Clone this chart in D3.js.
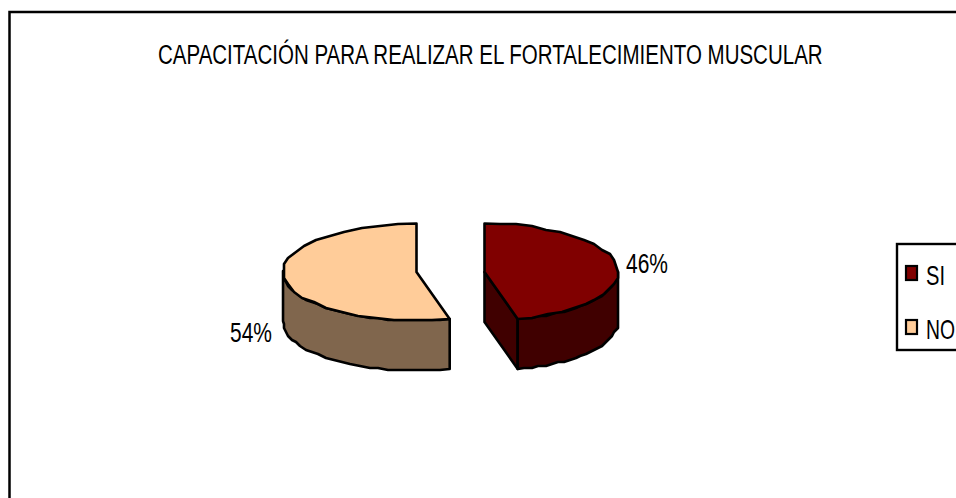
<!DOCTYPE html>
<html><head><meta charset="utf-8">
<script src="https://cdn.jsdelivr.net/npm/d3@7"></script>
<style>html,body{margin:0;padding:0;background:#fff;overflow:hidden}svg{display:block}text{font-family:"Liberation Sans",Arial,sans-serif;fill:#000}</style>
</head><body><svg width="956" height="498"></svg>
<script>
const categories = ["SI", "NO"];
const values = [46, 54];
const topColors = ["#800000", "#FFCC99"];
const sideColors = ["#400000", "#80664D"];
const titleText = "CAPACITACIÓN PARA REALIZAR EL FORTALECIMIENTO MUSCULAR";

const svg = d3.select("svg");
const rx = 133.5, ry = 48.5, depth = 50, cy = 272;
const centers = [484.5, 416.5];
const pieData = d3.pie().sort(null).value(d => d)(values);

svg.append("rect").attr("x", 9.5).attr("y", 12).attr("width", 1000).attr("height", 600)
  .attr("fill", "#fff").attr("stroke", "#000").attr("stroke-width", 2.5);

const pt = (cx, a, dy = 0) => [cx + rx * Math.sin(a), cy - ry * Math.cos(a) + dy];
// coarse polyline outline, snapped to a grid as in the low-resolution original
const snap = p => [Math.round(p[0] / 2) * 2, Math.round(p[1] / 2) * 2];
function arcPts(cx, a0, a1, dy = 0) {
  const n = 24, out = [];
  const s = d3.scaleLinear().domain([0, n]).range([a0, a1]);
  for (let i = 0; i <= n; i++) {
    const p = pt(cx, s(i), dy);
    out.push(i === 0 || i === n ? p : snap(p));
  }
  return out;
}
const line = d3.line();
const stroke = g => g.attr("stroke", "#000").attr("stroke-width", 2.6).attr("stroke-linejoin", "round");

// NO slice: outer wall on the left-front
{
  const d = pieData[1], cx = centers[1];
  const a0 = d.startAngle, split = 1.5 * Math.PI + 0.02;
  const upper = arcPts(cx, a0, split), lower = arcPts(cx, a0, split, depth).reverse();
  svg.append("path").attr("d", line(upper.concat(lower)) + "Z").attr("fill", sideColors[1]).call(stroke);
  const rim = arcPts(cx, d.startAngle, d.endAngle);
  svg.append("path").attr("d", line([[cx, cy]].concat(rim)) + "Z").attr("fill", topColors[1]).call(stroke);
}
// SI slice: cut face, outer wall and top
{
  const d = pieData[0], cx = centers[0];
  const e = pt(cx, d.endAngle);
  svg.append("path").attr("d", line([[cx, cy], e, [e[0], e[1] + depth], [cx, cy + depth]]) + "Z")
    .attr("fill", sideColors[0]).call(stroke);
  const q = Math.PI / 2;
  const upper = arcPts(cx, q, d.endAngle), lower = arcPts(cx, q, d.endAngle, depth).reverse();
  svg.append("path").attr("d", line(upper.concat(lower)) + "Z").attr("fill", sideColors[0]).call(stroke);
  const rim = arcPts(cx, d.startAngle, d.endAngle);
  svg.append("path").attr("d", line([[cx, cy]].concat(rim)) + "Z").attr("fill", topColors[0]).call(stroke);
}

// narrow the glyphs horizontally so each text spans the width seen in the original
const fs = 28;
function squeezed(str, x, y, w) {
  const t = svg.append("text").attr("font-size", fs).text(str);
  const k = w / t.node().getComputedTextLength();
  t.attr("transform", `translate(${x},${y}) scale(${k},1)`);
  return t;
}
squeezed(titleText, 158, 64, 665);

const labelPos = [[626, 273], [230, 342]];
values.forEach((v, i) => {
  squeezed(d3.format(".0%")(v / d3.sum(values)), labelPos[i][0], labelPos[i][1], 42);
});

// legend
svg.append("rect").attr("x", 897).attr("y", 244).attr("width", 120).attr("height", 106)
  .attr("fill", "#fff").attr("stroke", "#000").attr("stroke-width", 2.4);
const legendY = d3.scalePoint().domain(categories).range([274, 328]);
categories.forEach((c, i) => {
  svg.append("rect").attr("x", 906).attr("y", legendY(c) - 8).attr("width", 11).attr("height", 14)
    .attr("fill", topColors[i]).attr("stroke", "#000").attr("stroke-width", 2.2);
  squeezed(c, 926, legendY(c) + 11, c === "SI" ? 19 : 29);
});
</script></body></html>
